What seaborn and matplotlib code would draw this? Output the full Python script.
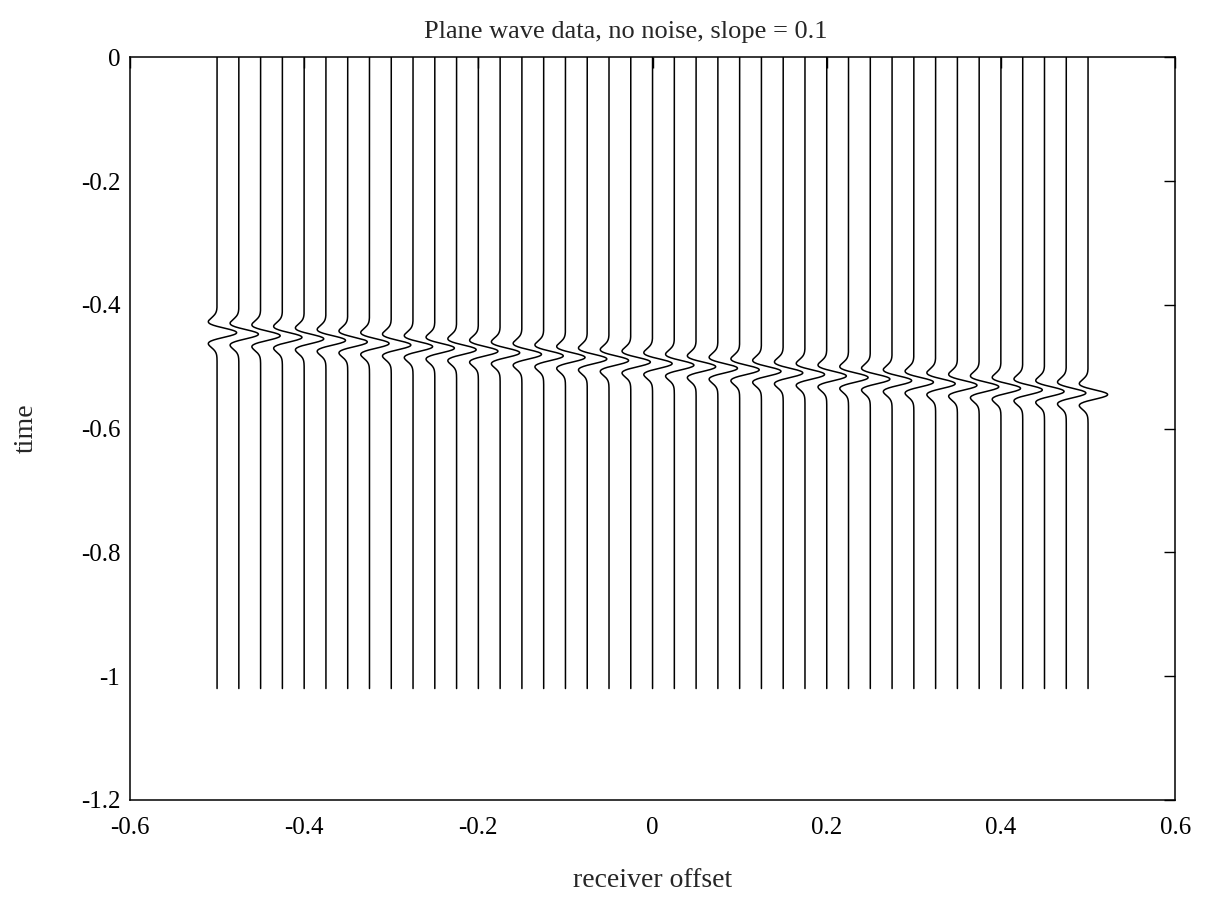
import numpy as np
import pandas as pd
import matplotlib
matplotlib.use("Agg")
import matplotlib.pyplot as plt
import seaborn as sns

# ---- data ----
offsets = [round(-0.5 + 0.025 * i, 3) for i in range(41)]   # receiver offsets of the 41 traces
slope = 0.1                                                  # from the title
t_intercept = -0.495                                         # arrival time at offset 0
peak_freq = 22.0                                             # Ricker peak frequency
amplitude = 0.0225                                           # peak deflection (offset units)
t_start, t_end = 0.0, -1.02                                  # trace extent in time

xticks = [-0.6, -0.4, -0.2, 0, 0.2, 0.4, 0.6]
xticklabels = ["-0.6", "-0.4", "-0.2", "0", "0.2", "0.4", "0.6"]
yticks = [0, -0.2, -0.4, -0.6, -0.8, -1.0, -1.2]
yticklabels = ["0", "-0.2", "-0.4", "-0.6", "-0.8", "-1", "-1.2"]

# ---- build long-form table of traces ----
times = np.linspace(t_start, t_end, 1200)
rows = []
for i, off in enumerate(offsets):
    t0 = t_intercept - slope * off
    a = (np.pi * peak_freq * (times - t0)) ** 2
    w = amplitude * (1 - 2 * a) * np.exp(-a)
    rows.append(pd.DataFrame({"x": off + w, "t": times, "trace": i}))
df = pd.concat(rows, ignore_index=True)

sns.set_style("white")
plt.rcParams["font.family"] = ["Liberation Serif", "DejaVu Serif"]

fig = plt.figure(figsize=(12.09, 9.09), dpi=100)
ax = fig.add_axes([0.1075, 0.12, 0.8645, 0.817])

sns.lineplot(data=df, x="x", y="t", units="trace", estimator=None, sort=False,
             color="black", linewidth=1.1, ax=ax, legend=False)

ax.set_xlim(-0.6, 0.6)
ax.set_ylim(-1.2, 0)
ax.set_xticks(xticks)
ax.set_xticklabels(xticklabels)
ax.set_yticks(yticks)
ax.set_yticklabels(yticklabels)
ax.tick_params(direction="in", length=8, width=1, top=True, right=True,
               labelsize=18, colors="black")
ax.tick_params(axis="x", pad=12)
ax.tick_params(axis="y", pad=7)
for s in ax.spines.values():
    s.set_color("black")
    s.set_linewidth(1.1)

ax.set_title("Plane wave data, no noise, slope = 0.1", fontsize=19, pad=14, x=0.474)
ax.set_xlabel("receiver offset", fontsize=20)
ax.set_ylabel("time", fontsize=20)
ax.xaxis.set_label_coords(0.5, -0.092)
ax.yaxis.set_label_coords(-0.087, 0.5)

fig.savefig("out.png", dpi=100, facecolor="white")
